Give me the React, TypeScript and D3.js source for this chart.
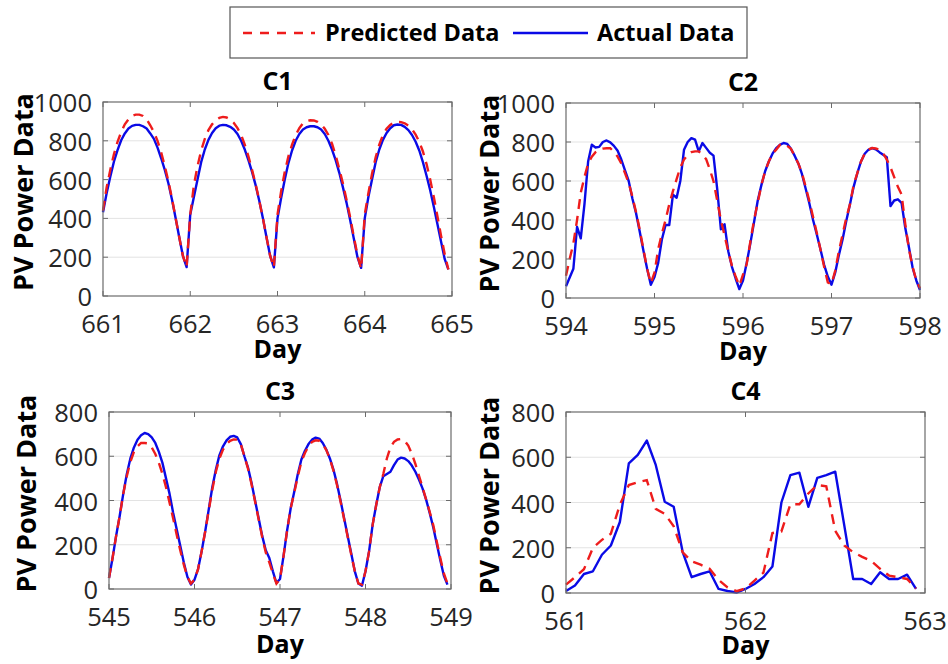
import * as d3 from "d3";

// hourly samples, one row per day
const c1Actual = [
  432, 530, 615, 692, 752, 803, 838, 863, 877, 882, 882, 875, 863, 838, 810, 765, 710, 650, 580, 495, 400, 300, 205, 149,
  420, 510, 600, 690, 755, 805, 840, 865, 878, 882, 880, 872, 858, 835, 800, 755, 700, 640, 570, 490, 400, 300, 205, 148,
  400, 505, 600, 685, 750, 800, 835, 858, 870, 875, 875, 870, 858, 835, 800, 755, 700, 635, 560, 480, 390, 295, 200, 145,
  400, 510, 600, 690, 755, 805, 840, 865, 880, 884, 882, 872, 855, 830, 795, 750, 690, 620, 545, 460, 370, 280, 190, 137,
];
const c1Predicted = [
  440, 560, 650, 730, 795, 845, 885, 910, 928, 935, 935, 928, 910, 880, 845, 800, 740, 670, 590, 500, 400, 300, 205, 150,
  420, 570, 670, 750, 810, 855, 885, 905, 918, 923, 920, 910, 892, 865, 830, 780, 720, 650, 575, 490, 400, 300, 205, 148,
  420, 540, 640, 720, 780, 830, 865, 890, 902, 906, 905, 898, 885, 862, 830, 785, 725, 655, 580, 495, 405, 305, 210, 140,
  420, 530, 630, 715, 780, 830, 862, 882, 893, 897, 896, 890, 878, 860, 832, 795, 745, 680, 600, 510, 410, 310, 215, 137,
];

const c2Actual = [
  60, 105, 150, 365, 306, 480, 700, 786, 772, 775, 800, 808, 798, 780, 755, 710, 655, 600, 510, 435, 340, 242, 150, 68,
  108, 180, 300, 374, 374, 530, 514, 600, 760, 800, 820, 812, 752, 795, 770, 745, 730, 560, 352, 378, 240, 160, 100, 46,
  90, 180, 280, 390, 500, 580, 650, 700, 740, 768, 785, 795, 790, 765, 730, 690, 635, 560, 485, 400, 327, 250, 170, 110,
  68, 130, 220, 300, 395, 480, 570, 640, 700, 740, 760, 769, 762, 748, 735, 722, 471, 500, 506, 488, 360, 260, 155, 90, 41,
];
const c2Predicted = [
  114, 200, 280, 400, 540, 620, 690, 725, 748, 760, 766, 768, 768, 750, 725, 690, 640, 590, 520, 440, 350, 250, 150, 75,
  130, 250, 330, 400, 480, 548, 610, 670, 710, 735, 748, 752, 752, 735, 712, 660, 599, 500, 400, 320, 240, 165, 110, 63,
  120, 174, 290, 400, 490, 580, 650, 700, 740, 761, 785, 790, 780, 765, 728, 690, 640, 570, 497, 415, 335, 250, 160, 80,
  70, 140, 240, 325, 410, 480, 580, 640, 700, 740, 762, 769, 767, 760, 742, 710, 670, 620, 570, 531, 380, 250, 160, 90, 50,
];

const c3Actual = [
  50, 140, 240, 330, 430, 520, 590, 640, 675, 695, 705, 700, 685, 660, 620, 570, 500, 430, 345, 270, 195, 120, 55, 20,
  42, 90, 170, 260, 360, 460, 540, 605, 645, 672, 688, 692, 685, 655, 600, 550, 480, 400, 320, 240, 175, 140, 80, 27,
  45, 150, 265, 365, 440, 520, 585, 625, 655, 675, 684, 680, 660, 630, 590, 540, 475, 400, 320, 240, 160, 80, 25, 15,
  80, 170, 290, 380, 460, 510, 520, 530, 560, 585, 594, 590, 578, 558, 530, 495, 455, 405, 345, 280, 205, 130, 60, 20,
];
const c3Predicted = [
  50, 140, 240, 330, 430, 510, 575, 620, 645, 660, 660, 658, 640, 610, 570, 520, 460, 390, 320, 245, 175, 110, 55, 25,
  42, 90, 170, 260, 355, 450, 530, 590, 630, 655, 670, 676, 675, 655, 600, 545, 475, 395, 315, 235, 165, 120, 70, 25,
  45, 150, 265, 365, 435, 510, 575, 615, 645, 665, 672, 670, 655, 628, 588, 535, 470, 395, 315, 235, 155, 80, 25, 20,
  80, 170, 290, 380, 460, 520, 590, 640, 665, 676, 678, 670, 648, 612, 565, 512, 460, 405, 350, 290, 215, 140, 70, 25,
];

// samples every 0.05 day
const c4Actual = [
  9, 33, 84, 96, 169, 210, 314, 573, 610, 674, 566, 403, 381, 181, 70, 84, 96, 18, 9, 2,
  18, 40, 70, 117, 400, 521, 532, 381, 509, 521, 536, 300, 62, 62, 40, 92, 62, 62, 81, 18,
];
const c4Predicted = [
  37, 70, 105, 200, 235, 262, 390, 477, 490, 499, 372, 350, 295, 180, 140, 125, 107, 58, 25, 8,
  20, 55, 90, 265, 272, 392, 392, 440, 477, 472, 275, 210, 180, 160, 142, 107, 77, 70, 62, 20,
];

const c1Ticks = [661, 662, 663, 664, 665];
const c2Ticks = [594, 595, 596, 597, 598];
const c3Ticks = [545, 546, 547, 548, 549];
const c4Ticks = [561, 562, 563];
const yTicks1000 = [0, 200, 400, 600, 800, 1000];
const yTicks800 = [0, 200, 400, 600, 800];

const FONT = "'Open Sans', 'Liberation Sans', sans-serif";
const RED = "#ee1c1c";
const BLUE = "#0a0ae6";

const panels = [
  { title: "C1", left: 103, top: 102, width: 349, height: 194, start: 661, end: 665, perDay: 24, xTicks: c1Ticks, yTicks: yTicks1000, actual: c1Actual, predicted: c1Predicted, dayGap: 62, ylabX: 33 },
  { title: "C2", left: 566, top: 103, width: 354, height: 195, start: 594, end: 598, perDay: 24, xTicks: c2Ticks, yTicks: yTicks1000, actual: c2Actual, predicted: c2Predicted, dayGap: 62, ylabX: 499 },
  { title: "C3", left: 109, top: 412, width: 342, height: 177, start: 545, end: 549, perDay: 24, xTicks: c3Ticks, yTicks: yTicks800, actual: c3Actual, predicted: c3Predicted, dayGap: 64, ylabX: 36 },
  { title: "C4", left: 566, top: 412, width: 359, height: 181, start: 561, end: 563, perDay: 20, xTicks: c4Ticks, yTicks: yTicks800, actual: c4Actual, predicted: c4Predicted, dayGap: 61, ylabX: 499 },
];

function Panel({ p }: { p: any }) {
  const bottom = p.top + p.height;
  const right = p.left + p.width;
  const x = d3.scaleLinear().domain([p.start, p.end]).range([p.left, right]);
  const yMax = p.yTicks[p.yTicks.length - 1];
  const y = d3.scaleLinear().domain([0, yMax]).range([bottom, p.top]);
  const line = d3.line<number>()
    .x((_, i) => x(p.start + i / p.perDay))
    .y((d) => y(d));
  const tl = 5;

  return (
    <g>
      {p.yTicks.slice(1, -1).map((t: number) => (
        <line key={"g" + t} x1={p.left} x2={right} y1={y(t)} y2={y(t)} stroke="#e3e3e3" strokeWidth={1} />
      ))}
      <path d={line(p.actual) || ""} fill="none" stroke={BLUE} strokeWidth={2.4} strokeLinejoin="round" />
      <path d={line(p.predicted) || ""} fill="none" stroke={RED} strokeWidth={2.4} strokeDasharray="10,7" />
      <rect x={p.left} y={p.top} width={p.width} height={p.height} fill="none" stroke="#6b6b6b" strokeWidth={1.2} />
      {p.xTicks.map((t: number) => (
        <g key={"x" + t}>
          <line x1={x(t)} x2={x(t)} y1={bottom} y2={bottom - tl} stroke="#6b6b6b" />
          <line x1={x(t)} x2={x(t)} y1={p.top} y2={p.top + tl} stroke="#6b6b6b" />
          <text x={x(t)} y={bottom + 37} textAnchor="middle" fontSize={25.5} fill="#262626" fontFamily={FONT}>{t}</text>
        </g>
      ))}
      {p.yTicks.map((t: number) => (
        <g key={"y" + t}>
          <line x1={p.left} x2={p.left + tl} y1={y(t)} y2={y(t)} stroke="#6b6b6b" />
          <line x1={right} x2={right - tl} y1={y(t)} y2={y(t)} stroke="#6b6b6b" />
          <text x={p.left - 11} y={y(t) + 10} textAnchor="end" fontSize={25.5} fill="#262626" fontFamily={FONT}>{t}</text>
        </g>
      ))}
      <text x={(p.left + right) / 2} y={p.top - 12} textAnchor="middle" fontSize={25} fontWeight="bold" fontFamily={FONT}>{p.title}</text>
      <text x={(p.left + right) / 2} y={bottom + p.dayGap} textAnchor="middle" fontSize={25} fontWeight="bold" fontFamily={FONT}>Day</text>
      <text transform={`translate(${p.ylabX},${(p.top + bottom) / 2 - 7}) rotate(-90)`} textAnchor="middle" fontSize={27} fontWeight="bold" fontFamily={FONT}>PV Power Data</text>
    </g>
  );
}

export default function App() {
  return (
    <svg width={948} height={664} style={{ display: "block", position: "absolute", left: 0, top: 0, background: "#fff" }}>
      <rect x={0} y={0} width={948} height={664} fill="#fff" />
      <g>
        <rect x={230} y={7} width={517} height={51} fill="#fff" stroke="#555" strokeWidth={1.2} />
        <line x1={243} x2={315} y1={33} y2={33} stroke={RED} strokeWidth={2.4} strokeDasharray="9,8" />
        <text x={325} y={41} fontSize={23.5} fontWeight="bold" fontFamily={FONT}>Predicted Data</text>
        <line x1={513} x2={588} y1={33} y2={33} stroke={BLUE} strokeWidth={2.4} />
        <text x={597} y={41} fontSize={23.5} fontWeight="bold" fontFamily={FONT}>Actual Data</text>
      </g>
      {panels.map((p) => (
        <Panel key={p.title} p={p} />
      ))}
    </svg>
  );
}
